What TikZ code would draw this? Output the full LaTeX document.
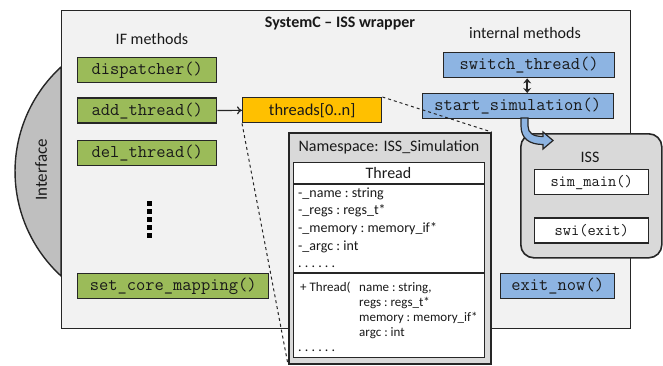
\documentclass[tikz,border=0pt]{standalone}
\usepackage{fontspec}
\setmainfont{Carlito}
\usetikzlibrary{positioning, arrows.meta}

\definecolor{ifgreen}{HTML}{9BBB59}
\definecolor{intblue}{HTML}{8DB4E2}
\definecolor{throrange}{HTML}{FFC000}
\definecolor{wrapfill}{HTML}{F2F2F2}
\definecolor{nsgray}{HTML}{D9D9D9}
\definecolor{ifacegray}{HTML}{BFBFBF}
\definecolor{edge}{HTML}{262626}

\newcommand{\setfs}[1]{\fontsize{#1}{#1}\selectfont}

\begin{document}
\begin{tikzpicture}[
  x=1pt, y=-1pt,
  node distance=14pt and 26pt,
  every node/.style={inner sep=0pt, text=black!90},
  box/.style={draw=edge, line width=1.4pt, minimum height=25pt, font=\ttfamily\setfs{18}},
  ifm/.style={box, fill=ifgreen, minimum width=139pt},
  intm/.style={box, fill=intblue},
  issm/.style={box, fill=white, minimum width=114pt, font=\ttfamily\setfs{16}},
  lbl/.style={font=\setfs{16}},
  member/.style={font=\frenchspacing\setfs{14}, anchor=base west},
  param/.style={font=\frenchspacing\setfs{13}, anchor=base west},
  arr/.style={->, >={To[length=5pt, width=8pt]}, line width=1.2pt, draw=edge},
  link/.style={dashed, line width=1pt, draw=edge}
]
\useasboundingbox (0,0) rectangle (663,365);

% interface and wrapper
\filldraw[fill=ifacegray, draw=edge, line width=1.4pt]
  (61,67) arc[start angle=227.5, end angle=132.5, radius=141.7] -- cycle;
\node[font=\setfs{17}, rotate=90] (iface) at (41,170) {Interface};
\node[draw=edge, line width=1.4pt, fill=wrapfill, minimum width=569pt, minimum height=318pt, anchor=north west] (wrapper) at (61,10) {};
\node[font=\bfseries\setfs{16}] (title) at (340,24) {SystemC – ISS wrapper};

% IF methods
\node[lbl] (ifhead) at (152,39) {IF methods};
\node[ifm, anchor=north west] (disp) at (77,57) {dispatcher()};
\node[ifm, below=14pt of disp] (addt) {add\_thread()};
\node[ifm, below=16pt of addt] (delt) {del\_thread()};
\foreach \k in {0,...,4}
  \fill[black] (147,201+8*\k) rectangle ++(5,5);
\node[ifm, minimum width=191pt, anchor=north west] (setcore) at (77,273) {set\_core\_mapping()};

\node[box, fill=throrange, minimum width=139pt, font=\setfs{16.5}, anchor=north west] (threads) at (242,97) {threads[0..n]};
\draw[arr] (addt) -- (threads);

% internal methods
\node[lbl] (inthead) at (525,33) {internal methods};
\node[intm, minimum width=171pt, anchor=north west] (switch) at (443,52) {switch\_thread()};
\node[intm, minimum width=191pt, anchor=north east] (start) at (614,93) {start\_simulation()};
\draw[{Stealth[length=5pt,width=8pt]}-{Stealth[length=5pt,width=8pt]}, line width=1.8pt, draw=edge]
  ([xshift=-2pt]switch.south) -- ([xshift=-2pt]switch.south |- start.north);

% ISS
\node[draw=edge, line width=1.6pt, fill=nsgray, rounded corners=13pt, minimum width=141pt, minimum height=124pt, anchor=north west] (iss) at (520,133) {};
\node[lbl] (isshead) at (590,157) {ISS};
\node[issm, anchor=north west] (simmain) at (534,169) {sim\_main()};
\node[issm, below=22pt of simmain] (swi) {swi(exit)};
\filldraw[fill=intblue, draw=edge, line width=1.2pt]
  (521,118) -- (521,126) .. controls (521,139) and (530,144.5) .. (543,144.5)
  -- (543,149) -- (553,140.5) -- (543,132) -- (543,136.5)
  .. controls (533,136.5) and (528,133) .. (528,126) -- (528,118) -- cycle;
\node[intm, minimum width=114pt, anchor=north west] (exitnow) at (500,273) {exit\_now()};

% namespace
\node[draw=edge, line width=1.6pt, fill=nsgray, minimum width=202pt, minimum height=231pt, anchor=north west] (ns) at (288,132) {};
\draw[link] (threads.north east) -- (ns.north east);
\draw[link] (threads.south west) -- (ns.south west);
\node[lbl] (nshead) at (389,147) {Namespace: ISS\_Simulation};
\node[draw=edge, line width=1.4pt, fill=white, minimum width=191pt, minimum height=195pt, anchor=north west] (thread) at (293,162) {};
\draw[edge, line width=1.2pt] ([yshift=-22pt]thread.north west) -- ([yshift=-22pt]thread.north east);
\draw[edge, line width=1.2pt] ([yshift=-111pt]thread.north west) -- ([yshift=-111pt]thread.north east);
\node[lbl] (threadhead) at (388.5,173) {Thread};
\foreach \txt [count=\i from 0] in {-\_name : string, -\_regs : regs\_t*, -\_memory : memory\_if*, -\_argc : int, . . . . . .}
  \node[member] (attr\i) at (298,197+17.7*\i) {\txt};
\node[param] (ctor) at (300,291) {+ Thread(};
\foreach \txt [count=\i from 0] in {{name : string,}, regs : regs\_t*, memory : memory\_if*, argc : int}
  \node[param] (arg\i) at (359,291+15*\i) {\txt};
\node[member] (more) at (298,351) {. . . . . .};
\end{tikzpicture}
\end{document}
